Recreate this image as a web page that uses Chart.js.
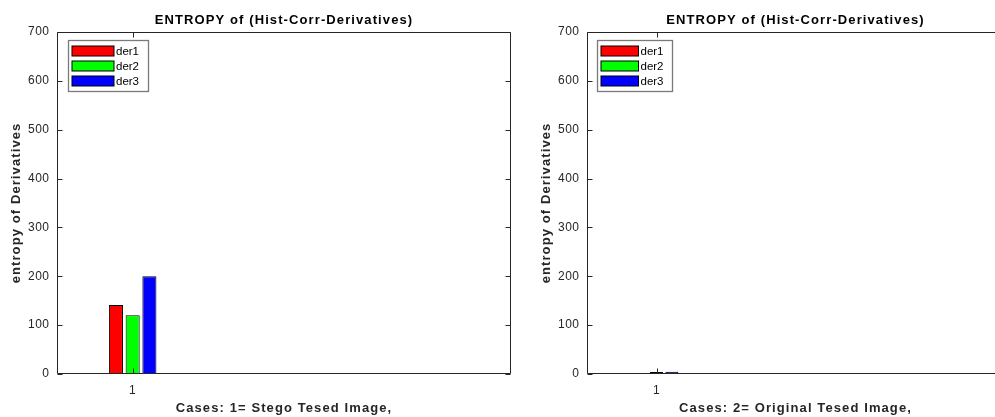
<!DOCTYPE html>
<html><head><meta charset="utf-8">
<script src="https://cdn.jsdelivr.net/npm/chart.js@4.4.1/dist/chart.umd.min.js"></script>
<style>
html,body{margin:0;padding:0;background:#fff;overflow:hidden;width:995px;height:417px;}
#c1{position:absolute;left:0;top:0;}
#c2{position:absolute;left:530px;top:0;}
</style></head><body>
<canvas id="c1" width="530" height="417"></canvas>
<canvas id="c2" width="480" height="417"></canvas>
<script>
// ---- data ----
const seriesNames = ['der1', 'der2', 'der3'];
const caseIndex = [1];
const stegoDer1 = [141];
const stegoDer2 = [120];
const stegoDer3 = [200];
const origDer1 = [1.5];
const origDer2 = [4];
const origDer3 = [4.5];
const xTickValues = [1];
const yTickValues = [0, 100, 200, 300, 400, 500, 600, 700];
const chartTitle = 'ENTROPY of (Hist-Corr-Derivatives)';
const yAxisTitle = 'entropy of Derivatives';
const xAxisTitles = ['Cases: 1= Stego Tesed Image,', 'Cases: 2= Original Tesed Image,'];

const FONT = '"Liberation Sans", Arial, Helvetica, sans-serif';
const AXC = '#262626';
const seriesColors = ['#ff0000', '#00ff00', '#0000ff'];
const TITLE_LS = '1.1px';
const TICK_LS = '0.5px';

function withSpacing(obj, name, ls) {
  const orig = obj[name].bind(obj);
  obj[name] = function (...args) {
    const c = this.ctx;
    c.save();
    c.letterSpacing = ls;
    orig(...args);
    c.restore();
  };
}
function spaceScale(s) {
  if (s._spaced) return;
  s._spaced = true;
  withSpacing(s, 'drawTitle', TITLE_LS);
  withSpacing(s, 'drawLabels', TICK_LS);
}

const framePlugin = {
  id: 'frame',
  afterLayout(chart) {
    const tb = chart.titleBlock;
    if (tb) {
      tb.left = chart.chartArea.left;
      tb.right = chart.chartArea.right;
      tb.width = tb.right - tb.left;
    }
  },
  beforeDraw(chart) {
    const tb = chart.titleBlock;
    if (tb && !tb._spaced) { tb._spaced = true; withSpacing(tb, 'draw', TITLE_LS); }
  },
  afterDatasetsDraw(chart, args, opts) {
    const {ctx, chartArea: a, scales: {x, y}} = chart;
    ctx.save();
    ctx.strokeStyle = AXC;
    ctx.lineWidth = 1;
    const L = Math.round(a.left) + 0.5, R = Math.round(a.right) - 0.5;
    const T = Math.round(a.top) + 0.5, B = Math.round(a.bottom) - 0.5;
    ctx.beginPath();
    ctx.rect(L, T, R - L, B - T);
    const tl = 5;
    y.ticks.forEach(t => {
      const py = Math.round(y.getPixelForValue(t.value)) + 0.5;
      ctx.moveTo(L, py); ctx.lineTo(L + tl, py);
      ctx.moveTo(R, py); ctx.lineTo(R - tl, py);
    });
    x.ticks.forEach(t => {
      const px = Math.round(x.getPixelForValue(t.value)) + 0.5;
      ctx.moveTo(px, B); ctx.lineTo(px, B - tl);
      ctx.moveTo(px, T); ctx.lineTo(px, T + tl);
    });
    ctx.stroke();

    // legend box
    const lx = Math.round(a.left + opts.dx) + 0.5, ly = Math.round(a.top + opts.dy) + 0.5;
    ctx.fillStyle = '#fff';
    ctx.fillRect(lx, ly, opts.w, opts.h);
    ctx.strokeStyle = '#7a7a7a';
    ctx.lineWidth = 1.3;
    ctx.strokeRect(lx, ly, opts.w, opts.h);
    ctx.font = '11.5px ' + FONT;
    ctx.textBaseline = 'middle';
    ctx.textAlign = 'left';
    chart.data.datasets.forEach((ds, i) => {
      const sy = ly + 5.5 + i * 15;
      const sx = lx + 3.5;
      ctx.fillStyle = ds.backgroundColor;
      ctx.fillRect(sx, sy, opts.sw, 10);
      ctx.strokeStyle = '#000';
      ctx.lineWidth = 1;
      ctx.strokeRect(sx, sy, opts.sw, 10);
      ctx.fillStyle = '#000';
      ctx.fillText(ds.label, sx + opts.sw + 2, sy + 5.5);
    });
    ctx.restore();
  }
};

function makeChart(id, vals, xTitle, padRight, legendOpts) {
  return new Chart(document.getElementById(id), {
    type: 'bar',
    data: {
      datasets: vals.map((v, i) => ({
        label: seriesNames[i],
        data: caseIndex.map((c, k) => ({x: c, y: v[k]})),
        backgroundColor: seriesColors[i],
        borderColor: '#000',
        borderWidth: 1,
        categoryPercentage: 0.1106,
        barPercentage: 0.84
      }))
    },
    options: {
      responsive: false,
      animation: false,
      devicePixelRatio: 1,
      layout: {padding: {left: 0, right: padRight, top: 0, bottom: 0}},
      plugins: {
        legend: {display: false},
        tooltip: {enabled: false},
        frame: legendOpts,
        title: {
          display: true, text: chartTitle, color: '#000',
          font: {family: FONT, size: 13, weight: 'bold'},
          padding: {top: 13, bottom: 3.4}
        }
      },
      scales: {
        x: {
          type: 'linear', min: 0.5, max: 3.5, offset: false,
          grid: {display: false, drawTicks: false},
          border: {display: false},
          afterBuildTicks: s => { s.ticks = xTickValues.map(v => ({value: v})); },
          afterFit: s => { s.height = 43; },
          afterUpdate: spaceScale,
          ticks: {color: AXC, font: {family: FONT, size: 12}, padding: 9, maxRotation: 0},
          title: {display: true, text: xTitle, color: AXC,
                  font: {family: FONT, size: 13, weight: 'bold'}, padding: {top: 0, bottom: 1.2}}
        },
        y: {
          min: 0, max: 700,
          grid: {display: false, drawTicks: false},
          border: {display: false},
          afterBuildTicks: s => { s.ticks = yTickValues.map(v => ({value: v})); },
          afterFit: s => { s.width = 57; },
          afterUpdate: spaceScale,
          ticks: {color: AXC, font: {family: FONT, size: 12}, padding: 7.5},
          title: {display: true, text: yAxisTitle, color: AXC,
                  font: {family: FONT, size: 13, weight: 'bold'}, padding: {top: 9, bottom: 0}}
        }
      }
    },
    plugins: [framePlugin]
  });
}

makeChart('c1', [stegoDer1, stegoDer2, stegoDer3], xAxisTitles[0], 19,
  {dx: 11, dy: 8, w: 80, h: 51, sw: 42});
makeChart('c2', [origDer1, origDer2, origDer3], xAxisTitles[1], 6,
  {dx: 9.5, dy: 8, w: 75, h: 51, sw: 37.5});
</script>
</body></html>
